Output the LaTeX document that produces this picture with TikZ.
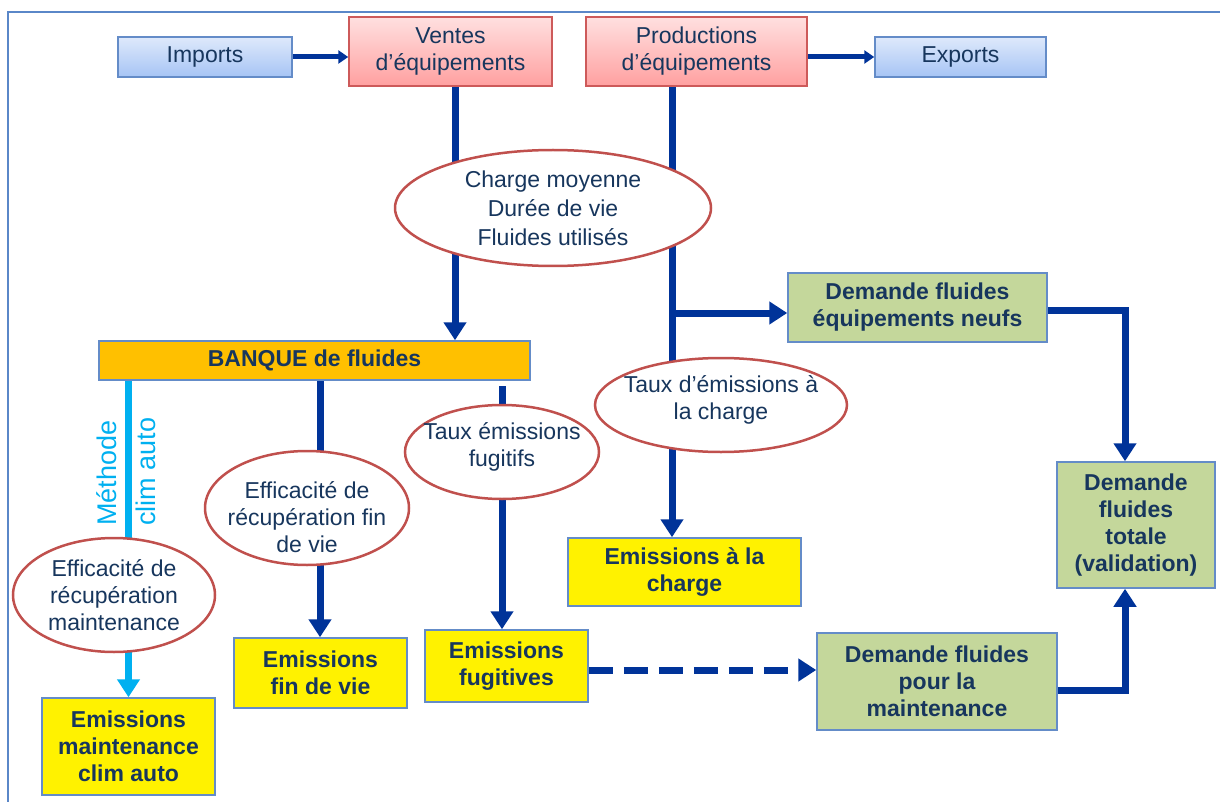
\documentclass[tikz,border=0pt]{standalone}
\usepackage{fontspec}
\setmainfont{Liberation Sans}
\usetikzlibrary{shapes.geometric,arrows.meta,backgrounds,calc}
\definecolor{txtblue}{RGB}{23,54,93}
\definecolor{arrblue}{RGB}{0,51,153}
\definecolor{lblue}{RGB}{0,176,240}
\definecolor{ellred}{RGB}{192,80,77}
\definecolor{boxborder}{RGB}{100,140,200}
\definecolor{greenfill}{RGB}{196,215,155}
\definecolor{banqfill}{RGB}{255,192,0}
\definecolor{framecol}{RGB}{90,135,200}
\definecolor{bluetop}{RGB}{222,233,251}
\definecolor{bluebot}{RGB}{166,196,245}
\definecolor{redtop}{RGB}{255,224,224}
\definecolor{redbot}{RGB}{255,160,160}
\definecolor{redborder}{RGB}{205,90,90}
\tikzset{
  box/.style={draw=boxborder, line width=1.5pt, inner sep=0pt, align=center, text=txtblue, font=\fontsize{23}{27}\selectfont},
  boldbox/.style={box, font=\fontsize{23}{27}\selectfont\bfseries},
  yellowbox/.style={boldbox, fill=yellow},
  greenbox/.style={boldbox, fill=greenfill},
  banq/.style={boldbox, fill=banqfill},
  bluebox/.style={box, top color=bluetop, bottom color=bluebot},
  redbox/.style={box, draw=redborder, top color=redtop, bottom color=redbot},
  ell/.style={ellipse, draw=ellred, line width=2.5pt, fill=white, inner sep=0pt},
  elltext/.style={align=center, text=txtblue, font=\fontsize{23}{27}\selectfont, inner sep=0pt},
  arr/.style={draw=arrblue, line width=7pt, -{Triangle[width=22pt,length=18pt]}},
  arrthin/.style={draw=arrblue, line width=5pt, -{Triangle[width=13pt,length=10pt]}},
  arrdash/.style={arr, dash pattern=on 24pt off 11pt},
  arrlb/.style={draw=lblue, line width=7pt, -{Triangle[width=22pt,length=18pt]}},
  vtext/.style={text=lblue, font=\fontsize{27}{30}\selectfont, inner sep=0pt, rotate=90, anchor=west}
}
\begin{document}
\begin{tikzpicture}[x=1pt,y=-1pt]
\useasboundingbox (0,0) rectangle (1220,802);
\draw[framecol, line width=2pt] (8,802) -- (8,12) -- (1220,12);

% boxes
\node[bluebox, minimum width=174pt, minimum height=40pt] (imports) at (205,57) {Imports};
\node[redbox, minimum width=203pt, minimum height=69pt] (ventes) at (450.5,51.5) {Ventes\\d’équipements};
\node[redbox, minimum width=221pt, minimum height=69pt] (prod) at (696.5,51.5) {Productions\\d’équipements};
\node[bluebox, minimum width=171pt, minimum height=40pt] (exports) at (960.5,57) {Exports};
\node[banq, minimum width=431pt, minimum height=39pt] (banque) at (314.5,360.5) {BANQUE de fluides};
\node[greenbox, minimum width=259pt, minimum height=69pt] (neufs) at (917.5,307.5) {Demande fluides\\équipements neufs};
\node[greenbox, minimum width=158pt, minimum height=126pt] (totale) at (1136,525) {Demande\\fluides\\totale\\(validation)};
\node[yellowbox, minimum width=233pt, minimum height=68pt] (chargebox) at (684.5,572) {Emissions à la\\charge};
\node[yellowbox, minimum width=163pt, minimum height=72pt] (fugitives) at (506.5,666) {Emissions\\fugitives};
\node[yellowbox, minimum width=173pt, minimum height=70pt] (findevie) at (320.5,673) {Emissions\\fin de vie};
\node[yellowbox, minimum width=173pt, minimum height=97pt] (clim) at (128.5,746.5) {Emissions\\maintenance\\clim auto};
\node[greenbox, minimum width=240pt, minimum height=97pt] (maint) at (937,681.5) {Demande fluides\\pour la\\maintenance};

% ellipses
\node[ell, minimum width=316pt, minimum height=116pt,
  label={[elltext, font=\fontsize{23}{29}\selectfont]center:{Charge moyenne\\Durée de vie\\Fluides utilisés}}] (eCharge) at (553,208) {};
\node[ell, minimum width=252pt, minimum height=94pt,
  label={[elltext, yshift=5pt]center:{Taux d’émissions à\\la charge}}] (eTaux) at (721,405) {};
\node[ell, minimum width=194pt, minimum height=94pt,
  label={[elltext, yshift=5pt]center:{Taux émissions\\fugitifs}}] (eFug) at (502,452) {};
\node[ell, minimum width=204pt, minimum height=114pt,
  label={[elltext, yshift=-9pt]center:{Efficacité de\\récupération fin\\de vie}}] (eFin) at (307,508) {};
\node[ell, minimum width=202pt, minimum height=114pt,
  label={[elltext]center:{Efficacité de\\récupération\\maintenance}}] (eMaint) at (114,595) {};

% rotated label
\node[vtext] (meth1) at (107,526) {Méthode};
\node[vtext] (meth2) at (146,526) {clim auto};

% connectors
\begin{scope}[on background layer]
\draw[arrthin] (imports.east) -- (ventes.west |- imports.east);
\draw[arrthin] (prod.east |- exports.west) -- (exports.west);
\draw[arr] ([xshift=4.5pt]ventes.south) -- ([xshift=4.5pt]ventes.south |- banque.north);
\draw[arr] ([xshift=-24.5pt]prod.south) -- ([xshift=-24.5pt]prod.south |- chargebox.north);
\coordinate (br) at (669,313);
\draw[arr] (br) -- (br -| neufs.west);
\draw[arr] ([yshift=-2.5pt]neufs.east) -| ([xshift=-11pt]totale.north);
\draw[arr] ([yshift=-8.5pt]maint.east) -| ([xshift=-11pt]totale.south);
\draw[arr] ([xshift=5.5pt]banque.south) -- ([xshift=5.5pt]banque.south |- findevie.north);
\coordinate (fs) at (502,386);
\draw[arr] (fs) -- (fs |- fugitives.north);
\draw[arrdash] ([yshift=-4pt]fugitives.east) -- ([yshift=-4pt]fugitives.east -| maint.west);
\draw[arrlb] (clim.north |- banque.south) -- (clim.north);
\end{scope}
\end{tikzpicture}
\end{document}
